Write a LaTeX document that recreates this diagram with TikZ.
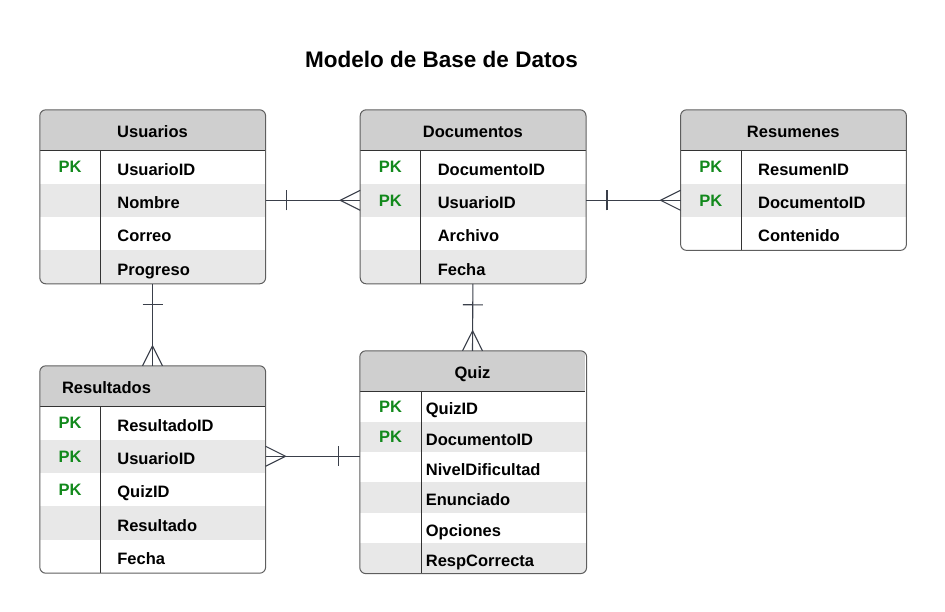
\documentclass[tikz,border=0pt]{standalone}
\usepackage{fontspec}
\setmainfont{Liberation Sans}
\usetikzlibrary{positioning,backgrounds,decorations.markings}

\definecolor{headgray}{HTML}{CFCFCF}
\definecolor{rowgray}{HTML}{E8E8E8}
\definecolor{pkgreen}{HTML}{12891C}
\definecolor{edgecol}{HTML}{3A3F4A}
\definecolor{framecol}{HTML}{5E5E5E}

\newcommand{\tabfont}{\fontsize{16.5}{19}\selectfont\bfseries}

\tikzstyle{head} = [rectangle, minimum width=225pt, minimum height=40pt, inner sep=0pt, text height=16.8pt, text depth=1pt, font=\tabfont]
\tikzstyle{key} = [rectangle, minimum width=60pt, minimum height=33pt, inner sep=0pt, text height=12.8pt, text depth=1pt, text=pkgreen, font=\tabfont]
\tikzstyle{field} = [rectangle, minimum width=165pt, minimum height=33pt, inner xsep=17pt, inner ysep=0pt, text width=131pt, align=left, text height=17.5pt, text depth=1pt, font=\tabfont]
\tikzstyle{qkey} = [key, minimum width=61pt, minimum height=30pt]
\tikzstyle{qfield} = [field, minimum height=30pt, inner xsep=4pt, text width=156pt]
\tikzstyle{line} = [draw, edgecol, line width=1.1pt]
\tikzstyle{one} = [postaction={decorate, decoration={markings, mark=at position 21pt with {\draw[edgecol, line width=1.1pt] (0pt,-10pt) -- (0pt,10pt);}}}]
\tikzstyle{many} = [postaction={decorate, decoration={markings, mark=at position 1 with {\draw[edgecol, line width=1.1pt] (0pt,10pt) -- (-20pt,0pt) -- (0pt,-10pt);}}}]

% frame of one table: header name, last row, shaded rows
\newcommand{\tableframe}[3]{%
  \begin{scope}[on background layer]
  \begin{scope}
    \clip[rounded corners=6pt] (#1.north west) rectangle (#1#2.south east);
    \fill[headgray] (#1.north west) rectangle (#1.south east);
    \foreach \r in {#3} \fill[rowgray] (#1\r k.north west) rectangle (#1\r.south east);
  \end{scope}
  \end{scope}
  \draw[black!80, line width=1.1pt] (#1.south west) -- (#1.south east);
  \draw[black!80, line width=1pt] (#11k.north east) -- (#1#2k.south east);
  \draw[framecol, line width=1pt, rounded corners=6pt] (#1.north west) rectangle (#1#2.south east);
}

\begin{document}
\begin{tikzpicture}[x=1pt, y=-1pt]
	\useasboundingbox (0,0) rectangle (945,611);
	\node[font=\fontsize{22.5}{26}\selectfont\bfseries] (title) at (441.5,59) {Modelo de Base de Datos};

	% Usuarios
	\node[head] (usr) at (152.5,130) {Usuarios};
	\node[key, below right=0pt of usr.south west] (usr1k) {PK};
	\node[field, right=0pt of usr1k] (usr1) {UsuarioID};
	\node[key, below=0pt of usr1k] (usr2k) {};
	\node[field, right=0pt of usr2k] (usr2) {Nombre};
	\node[key, below=0pt of usr2k] (usr3k) {};
	\node[field, right=0pt of usr3k] (usr3) {Correo};
	\node[key, below=0pt of usr3k] (usr4k) {};
	\node[field, right=0pt of usr4k] (usr4) {Progreso};
	\tableframe{usr}{4}{2,4}

	% Documentos
	\node[head, right=95pt of usr] (doc) {Documentos};
	\node[key, below right=0pt of doc.south west] (doc1k) {PK};
	\node[field, right=0pt of doc1k] (doc1) {DocumentoID};
	\node[key, below=0pt of doc1k] (doc2k) {PK};
	\node[field, right=0pt of doc2k] (doc2) {UsuarioID};
	\node[key, below=0pt of doc2k] (doc3k) {};
	\node[field, right=0pt of doc3k] (doc3) {Archivo};
	\node[key, below=0pt of doc3k] (doc4k) {};
	\node[field, right=0pt of doc4k] (doc4) {Fecha};
	\tableframe{doc}{4}{2,4}

	% Resumenes
	\node[head, right=95pt of doc] (res) {Resumenes};
	\node[key, below right=0pt of res.south west] (res1k) {PK};
	\node[field, right=0pt of res1k] (res1) {ResumenID};
	\node[key, below=0pt of res1k] (res2k) {PK};
	\node[field, right=0pt of res2k] (res2) {DocumentoID};
	\node[key, below=0pt of res2k] (res3k) {};
	\node[field, right=0pt of res3k] (res3) {Contenido};
	\tableframe{res}{3}{2}

	% Resultados
	\node[head, inner xsep=22pt, text width=181pt, align=left] (rsl) at (152.5,386) {Resultados};
	\node[key, below right=0pt of rsl.south west] (rsl1k) {PK};
	\node[field, right=0pt of rsl1k] (rsl1) {ResultadoID};
	\node[key, below=0pt of rsl1k] (rsl2k) {PK};
	\node[field, right=0pt of rsl2k] (rsl2) {UsuarioID};
	\node[key, below=0pt of rsl2k] (rsl3k) {PK};
	\node[field, right=0pt of rsl3k] (rsl3) {QuizID};
	\node[key, below=0pt of rsl3k] (rsl4k) {};
	\node[field, right=0pt of rsl4k] (rsl4) {Resultado};
	\node[key, below=0pt of rsl4k] (rsl5k) {};
	\node[field, right=0pt of rsl5k] (rsl5) {Fecha};
	\tableframe{rsl}{5}{2,4}

	% Quiz
	\node[head] (qz) at (472.5,371) {Quiz};
	\node[qkey, below right=0pt of qz.south west] (qz1k) {PK};
	\node[qfield, right=0pt of qz1k] (qz1) {QuizID};
	\node[qkey, below=0pt of qz1k] (qz2k) {PK};
	\node[qfield, right=0pt of qz2k] (qz2) {DocumentoID};
	\node[qkey, below=0pt of qz2k] (qz3k) {};
	\node[qfield, right=0pt of qz3k] (qz3) {NivelDificultad};
	\node[qkey, below=0pt of qz3k] (qz4k) {};
	\node[qfield, right=0pt of qz4k] (qz4) {Enunciado};
	\node[qkey, below=0pt of qz4k] (qz5k) {};
	\node[qfield, right=0pt of qz5k] (qz5) {Opciones};
	\node[qkey, below=0pt of qz5k] (qz6k) {};
	\node[qfield, right=0pt of qz6k] (qz6) {RespCorrecta};
	\tableframe{qz}{6}{2,4,6}

	% relations
	\path[line, one, many] (usr2.east) -- (doc2k.west);
	\path[line, one, many] (doc2.east) -- (res2k.west);
	\path[line, one, many] (usr.center |- usr4.south) -- (rsl.north);
	\path[line, one, many] (doc.center |- doc4.south) -- (qz.north);
	\path[line, one, many] (qz.west |- rsl2.east) -- (rsl2.east);
\end{tikzpicture}
\end{document}
